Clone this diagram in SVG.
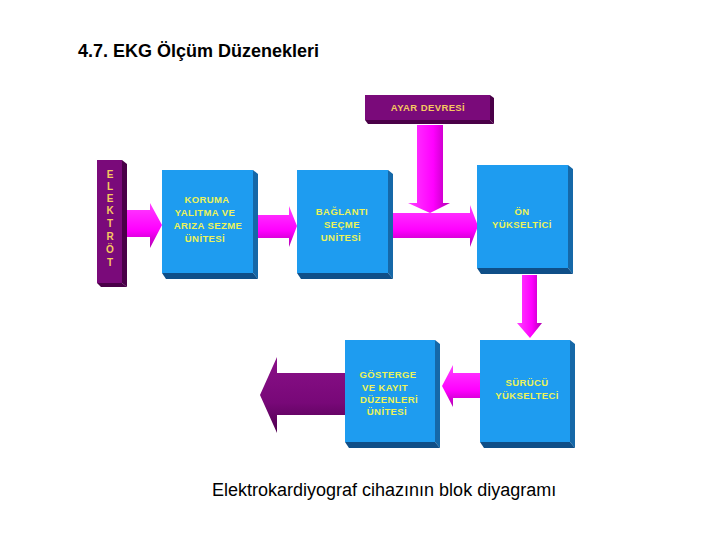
<svg xmlns="http://www.w3.org/2000/svg" width="720" height="540" viewBox="0 0 720 540">
<defs>
<linearGradient id="mag" x1="0" y1="0" x2="0" y2="1"><stop offset="0" stop-color="#ff40ff"/><stop offset="0.6" stop-color="#ff00ff"/><stop offset="1" stop-color="#b000b0"/></linearGradient>
<linearGradient id="magv" x1="0" y1="0" x2="1" y2="0"><stop offset="0" stop-color="#ff40ff"/><stop offset="0.6" stop-color="#ff00ff"/><stop offset="1" stop-color="#b000b0"/></linearGradient>
<linearGradient id="pur" x1="0" y1="0" x2="0" y2="1"><stop offset="0" stop-color="#8a1088"/><stop offset="0.6" stop-color="#780878"/><stop offset="1" stop-color="#4e004e"/></linearGradient>
</defs>
<style>
.front{fill:#1e9cf0}
.side{fill:#1568a8}
.bot{fill:#0f4f88}
.pfront{fill:#7a0a7a}
.pside{fill:#4a0048}
.lbl{font-family:"Liberation Sans",Arial,sans-serif;font-weight:bold;font-size:9.5px;fill:#ecf35a;text-anchor:middle;letter-spacing:0.4px}
.title{font-family:"Liberation Sans",Arial,sans-serif;font-weight:bold;font-size:18px;fill:#000}
.cap{font-family:"Liberation Sans",Arial,sans-serif;font-size:18px;fill:#000}
</style>
<rect width="720" height="540" fill="#fff"/>
<text class="title" x="78" y="57">4.7. EKG Ölçüm Düzenekleri</text>

<g id="connectors">
<polygon points="125,210 150,210 150,203 162,225 150,248 150,237 125,237" fill="url(#mag)"/>
<polygon points="253,215 289,215 289,206 297,226 289,247 289,238 253,238" fill="url(#mag)"/>
<polygon points="417,125 443,125 443,203 450,203 430,213 408,203 417,203" fill="url(#magv)"/>
<polygon points="388,213 470,213 470,205 478,226 470,247 470,238 388,238" fill="url(#mag)"/>
<polygon points="522,275 537,275 537,323 542,323 530,338 517,323 522,323" fill="url(#magv)"/>
<polygon points="480,373 453,373 453,365 442,386 453,407 453,398 480,398" fill="url(#mag)"/>
<polygon points="345,373 277,373 277,357 260,395 277,433 277,415 345,415" fill="url(#pur)"/>
</g>

<g id="elektrot">
<polygon class="pside" points="122,160 127,164 127,287 122,283"/>
<polygon class="pside" points="97,283 122,283 127,287 101,287"/>
<rect class="pfront" x="97" y="160" width="25" height="123"/>
<g font-family="Liberation Sans,Arial,sans-serif" font-weight="bold" font-size="10" fill="#f6c860" text-anchor="middle">
<text x="110" y="178">E</text><text x="110" y="190">L</text><text x="110" y="202">E</text><text x="110" y="214">K</text><text x="110" y="227">T</text><text x="110" y="240">R</text><text x="110" y="253">Ö</text><text x="110" y="266">T</text>
</g>
</g>

<g id="koruma">
<polygon class="side" points="253,170 258,174 258,279 253,273"/>
<polygon class="bot" points="162,273 253,273 258,279 166,279"/>
<rect class="front" x="162" y="170" width="91" height="103"/>
<text class="lbl" x="207" y="203">KORUMA</text>
<text class="lbl" x="205" y="216">YALITMA VE</text>
<text class="lbl" x="208" y="229">ARIZA SEZME</text>
<text class="lbl" x="205" y="242">ÜNİTESİ</text>
</g>

<g id="baglanti">
<polygon class="side" points="388,170 393,174 393,279 388,273"/>
<polygon class="bot" points="297,273 388,273 393,279 301,279"/>
<rect class="front" x="297" y="170" width="91" height="103"/>
<text class="lbl" x="342" y="215">BAĞLANTI</text>
<text class="lbl" x="342" y="228">SEÇME</text>
<text class="lbl" x="341" y="241">UNİTESİ</text>
</g>

<g id="ayar">
<polygon class="pside" points="490,95 494,98 494,124 490,120"/>
<polygon class="pside" points="365,120 490,120 494,124 368,124"/>
<rect class="pfront" x="365" y="95" width="125" height="25"/>
<text class="lbl" x="428" y="111" style="fill:#f6c860">AYAR DEVRESİ</text>
</g>

<g id="on">
<polygon class="side" points="568,165 573,169 573,274 568,268"/>
<polygon class="bot" points="477,268 568,268 573,274 481,274"/>
<rect class="front" x="477" y="165" width="91" height="103"/>
<text class="lbl" x="522" y="215">ÖN</text>
<text class="lbl" x="522" y="228">YÜKSELTİCİ</text>
</g>

<g id="surucu">
<polygon class="side" points="570,340 575,344 575,448 570,442"/>
<polygon class="bot" points="480,442 570,442 575,448 484,448"/>
<rect class="front" x="480" y="340" width="90" height="102"/>
<text class="lbl" x="527" y="386">SÜRÜCÜ</text>
<text class="lbl" x="527" y="399">YÜKSELTECİ</text>
</g>

<g id="gosterge">
<polygon class="side" points="435,340 440,344 440,448 435,442"/>
<polygon class="bot" points="345,442 435,442 440,448 349,448"/>
<rect class="front" x="345" y="340" width="90" height="102"/>
<text class="lbl" x="388" y="378">GÖSTERGE</text>
<text class="lbl" x="385" y="391">VE KAYIT</text>
<text class="lbl" x="389" y="403">DÜZENLERİ</text>
<text class="lbl" x="387" y="415">ÜNİTESİ</text>
</g>

<text class="cap" x="212" y="496">Elektrokardiyograf cihazının blok diyagramı</text>
</svg>
